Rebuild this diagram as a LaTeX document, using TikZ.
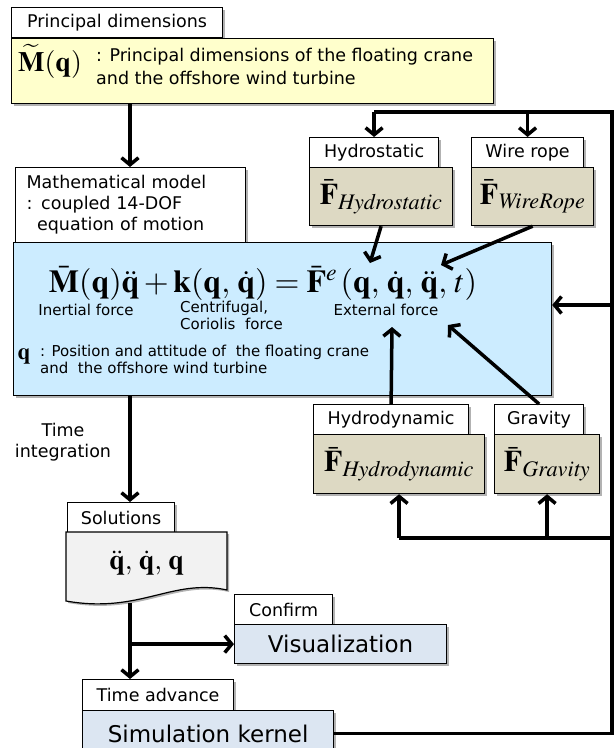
\documentclass[tikz,border=0pt]{standalone}
\usepackage{mathptmx}
\usepackage[no-math]{fontspec}
\setmainfont{DejaVu Sans}
\usetikzlibrary{arrows.meta,shadows}

\definecolor{dimyellow}{RGB}{255,255,204}
\definecolor{modelblue}{RGB}{204,236,255}
\definecolor{forcetan}{RGB}{221,217,195}
\definecolor{kernelblue}{RGB}{220,230,242}
\definecolor{docgray}{RGB}{242,242,242}

\begin{document}
\begin{tikzpicture}[
  x=1pt,
  y=-1pt,
  shade/.style={drop shadow={shadow xshift=2pt, shadow yshift=-2pt, opacity=0.3, fill=black}},
  tabbox/.style={draw=black, fill=white, line width=1.2pt, anchor=north west, inner sep=0pt, minimum height=30pt, font=\fontsize{17.5}{21}\selectfont, shade},
  bodybox/.style={draw=black, line width=1.2pt, anchor=north west, inner sep=0pt, shade},
  forcebox/.style={bodybox, fill=forcetan, minimum height=58pt, font=\fontsize{30}{32}\selectfont},
  note/.style={inner sep=0pt, font=\fontsize{15}{17}\selectfont},
  flow/.style={line width=3.5pt, -{Straight Barb[length=7pt, width=17pt]}},
  loopline/.style={line width=3.5pt}
]
\useasboundingbox (0,0) rectangle (615,748);

% principal dimensions
\node[tabbox, minimum width=211pt] (dimtab) at (11,7) {Principal dimensions};
\node[bodybox, fill=dimyellow, minimum width=482pt, minimum height=65pt] (dimbox) at (11,38) {};
\node[inner sep=0pt, anchor=west, font=\fontsize{28}{30}\selectfont] (dimsym) at (18,61) {$\widetilde{\mathbf{M}}(\mathbf{q})$};
\node[inner sep=0pt, anchor=north west, align=left, font=\fontsize{17.5}{23}\selectfont] (dimtext) at (96,48) {: Principal dimensions of the floating crane\\and the offshore wind turbine};

% mathematical model
\node[tabbox, minimum width=230pt, minimum height=75pt, text width=208pt, align=left] (modeltab) at (15,167) {Mathematical model\\: coupled 14-DOF\\\hspace*{0.6em}equation of motion};
\node[bodybox, fill=modelblue, minimum width=538pt, minimum height=153pt] (model) at (13,242) {};
\node[inner sep=0pt, font=\fontsize{32}{34}\selectfont] (eqn) at (263,283) {$\bar{\mathbf{M}}(\mathbf{q})\ddot{\mathbf{q}}+\mathbf{k}(\mathbf{q},\,\dot{\mathbf{q}})=\bar{\mathbf{F}}^{e}\,(\mathbf{q},\,\dot{\mathbf{q}},\,\ddot{\mathbf{q}},\,t)$};
\node[note] (inlabel) at (86,310) {Inertial force};
\node[note, anchor=north west, align=left] (corlabel) at (180,301) {Centrifugal,\\Coriolis\ \ force};
\node[note] (exlabel) at (386,310) {External force};
\node[inner sep=0pt, font=\fontsize{23}{26}\selectfont] (qsym) at (24,356) {$\mathbf{q}$};
\node[note, anchor=north west, align=left] (qtext) at (40,345) {: Position and attitude of\ \ the floating crane\\and\ \ the offshore wind turbine};

% external forces
\node[tabbox, minimum width=129pt] (hstab) at (309,137) {Hydrostatic};
\node[forcebox, minimum width=143pt] (hsbox) at (309,167) {$\bar{\mathbf{F}}_{\mathit{Hydrostatic}}$};
\node[tabbox, minimum width=112pt] (wrtab) at (471,137) {Wire rope};
\node[forcebox, minimum width=122pt] (wrbox) at (471,167) {$\bar{\mathbf{F}}_{\mathit{WireRope}}$};
\node[tabbox, minimum width=155pt] (hdtab) at (313,404) {Hydrodynamic};
\node[forcebox, minimum width=171pt, minimum height=59pt] (hdbox) at (313,434) {$\bar{\mathbf{F}}_{\mathit{Hydrodynamic}}$};
\node[tabbox, minimum width=89pt] (gvtab) at (494,404) {Gravity};
\node[forcebox, minimum width=105pt, minimum height=59pt] (gvbox) at (494,434) {$\bar{\mathbf{F}}_{\mathit{Gravity}}$};

% solutions
\node[tabbox, minimum width=107pt] (soltab) at (67,502) {Solutions};
\draw[line width=1.2pt, fill=docgray, shade] (66,532) -- (227,532) -- (227,590)
  .. controls (172,578) and (140,614) .. (66,601) -- cycle;
\node[inner sep=0pt, anchor=north west, minimum width=161pt, minimum height=62pt, font=\fontsize{28}{30}\selectfont] (sol) at (66,532) {$\ddot{\mathbf{q}},\,\dot{\mathbf{q}},\,\mathbf{q}$};
\node[font=\fontsize{17.5}{21}\selectfont, align=center, inner sep=0pt] (tilabel) at (63,442) {Time\\integration};

\node[tabbox, minimum width=98pt] (conftab) at (234,594) {Confirm};
\node[bodybox, fill=kernelblue, minimum width=212pt, minimum height=39pt, font=\fontsize{23}{26}\selectfont] (vis) at (234,624) {Visualization};
\node[tabbox, minimum width=151pt, minimum height=31pt] (advtab) at (82,679) {Time advance};
\node[bodybox, fill=kernelblue, minimum width=251pt, minimum height=46pt, font=\fontsize{23}{26}\selectfont] (kernel) at (82,710) {Simulation kernel};

% helper coordinates
\coordinate (spine) at (130,0);
\coordinate (rail) at (612,0);
\coordinate (topline) at (0,112);
\coordinate (lowline) at (0,538);
\coordinate (sideline) at (0,305);
\coordinate (docbot) at (130,603);
\coordinate (hsin) at (370,263);
\coordinate (wrin) at (441,265);
\coordinate (hdin) at (392,327);
\coordinate (gvin) at (448,325);

% main flow
\draw[flow] (dimbox.south -| spine) -- (modeltab.north -| spine);
\draw[flow] (model.south -| spine) -- (soltab.north -| spine);
\draw[flow] (docbot) -- (advtab.north -| spine);
\draw[flow] (docbot |- vis.west) -- (vis.west);

% feedback loop
\draw[loopline] (kernel.east) -| (rail |- topline) -- (hstab.north |- topline);
\draw[flow] (hstab.north |- topline) -- (hstab.north);
\draw[flow] (wrtab.north |- topline) -- (wrtab.north);
\draw[flow] (rail |- sideline) -- (model.east |- sideline);
\draw[loopline] (rail |- lowline) -- (hdbox.south |- lowline);
\draw[flow] (hdbox.south |- lowline) -- (hdbox.south);
\draw[flow] (gvbox.south |- lowline) -- (gvbox.south);

% forces into the equation
\draw[flow] (hsbox.south) -- (hsin);
\draw[flow] (wrbox.south) -- (wrin);
\draw[flow] (hdtab.north) -- (hdin);
\draw[flow] (gvtab.north) -- (gvin);
\end{tikzpicture}
\end{document}
